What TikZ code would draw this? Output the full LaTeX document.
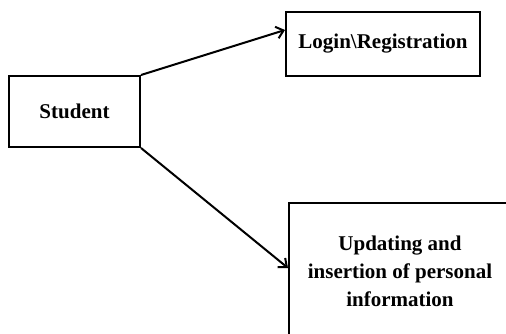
\documentclass[tikz,border=0pt]{standalone}
\usepackage{fontspec}
\setmainfont{Liberation Serif}
\usetikzlibrary{arrows.meta}
\begin{document}
\begin{tikzpicture}[x=1pt, y=-1pt, line width=2pt, line join=miter, >={Straight Barb[length=7pt,width=12pt]},
	font=\fontsize{21}{28}\selectfont\bfseries,
	box/.style={draw, rectangle, inner sep=0pt, align=center}]
			\clip (0,0) rectangle (506,334);
			\node[box, minimum width=131pt, minimum height=71pt] (student) at (74.5,111.5) {Student};
			\node[box, minimum width=194pt, minimum height=64pt] (login) at (383,44) {Login\textbackslash Registration};
			\node[box, minimum width=222pt, minimum height=136pt] (info) at (400,271) {Updating and\\insertion of personal\\information};
			\coordinate (tip) at (login.west |- 0,30);
			\draw[->] (student.north east)--(tip);
			\draw[->] (student.south east)--(info.west |- 0,268);
			\end{tikzpicture}
\end{document}
